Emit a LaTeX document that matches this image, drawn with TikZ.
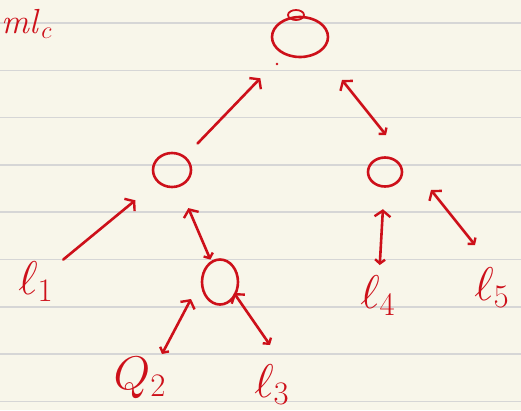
\documentclass[tikz,border=0pt]{standalone}
\usepackage{graphicx}
\usetikzlibrary{arrows.meta,calc,shapes.geometric}
\definecolor{paper}{RGB}{248,246,234}
\definecolor{rule}{RGB}{214,214,214}
\definecolor{ink}{RGB}{205,16,26}
\newcommand{\bigtxt}[1]{\scalebox{1.9}{\fontsize{24}{24}\selectfont #1}}
\begin{document}
\begin{tikzpicture}[x=1pt,y=-1pt,
  pen/.style={draw=ink,line width=2.6pt,line cap=round,line join=round},
  arr/.style={pen,-{Straight Barb[length=6pt,width=16pt,line width=2.4pt]}},
  darr/.style={pen,{Straight Barb[length=4pt,width=10pt,line width=2.4pt]}-{Straight Barb[length=6pt,width=16pt,line width=2.4pt]}},
  vtx/.style={pen,ellipse,inner sep=0pt},
  lbl/.style={text=ink,inner sep=1pt}]
\useasboundingbox (0,0) rectangle (521,410);
\fill[paper] (0,0) rectangle (521,410);
\foreach \k in {0,...,8} \draw[rule,line width=1.6pt] (0,23+47.3*\k) -- (521,23+47.3*\k);
% top-left note
\node[lbl,anchor=west] (note) at (0,24) {\scalebox{1.4}{\fontsize{24}{24}\selectfont $\mathit{ml}_c$}};
% vertices
\node[vtx,minimum width=56pt,minimum height=40pt] (R) at (300,37) {};
\draw[pen,line width=1.8pt] (296,15) ellipse (8pt and 5pt);
\fill[ink] (277,64) circle (1.4pt);
\node[vtx,minimum width=38pt,minimum height=34pt] (A) at (172,170) {};
\node[vtx,minimum width=34pt,minimum height=29pt] (B) at (385,172) {};
\node[vtx,minimum width=36pt,minimum height=45pt] (C) at (220,282) {};
% leaves
\node[lbl] (l1) at (36,282) {\bigtxt{$\ell_{1}$}};
\node[lbl] (l2) at (140,378) {\bigtxt{$Q_{2}$}};
\node[lbl] (l3) at (272,385) {\bigtxt{$\ell_{3}$}};
\node[lbl] (l4) at (378,296) {\bigtxt{$\ell_{4}$}};
\node[lbl] (l5) at (492,288) {\bigtxt{$\ell_{5}$}};
% connectors
\draw[arr] ($(A)!0.2!(R)$) -- ($(A)!0.69!(R)$);
\draw[darr] ($(B)+(1,-37)$) -- ($(R)+(42,43)$);
\draw[arr] ($(l1)!0.2!(A)$) -- ($(l1)!0.73!(A)$);
\draw[darr] ($(C)!0.2!(A)$) -- ($(C)!0.66!(A)$);
\draw[darr] ($(l2)+(22,-24)$) -- ($(C)+(-29,17)$);
\draw[darr] ($(l3)+(-2,-40)$) -- ($(C)+(14,11)$);
\draw[darr] ($(l4)!0.25!(B)$) -- ($(l4)!0.7!(B)$);
\draw[darr] ($(l5)+(-17,-43)$) -- ($(B)+(46,18)$);
\end{tikzpicture}
\end{document}
